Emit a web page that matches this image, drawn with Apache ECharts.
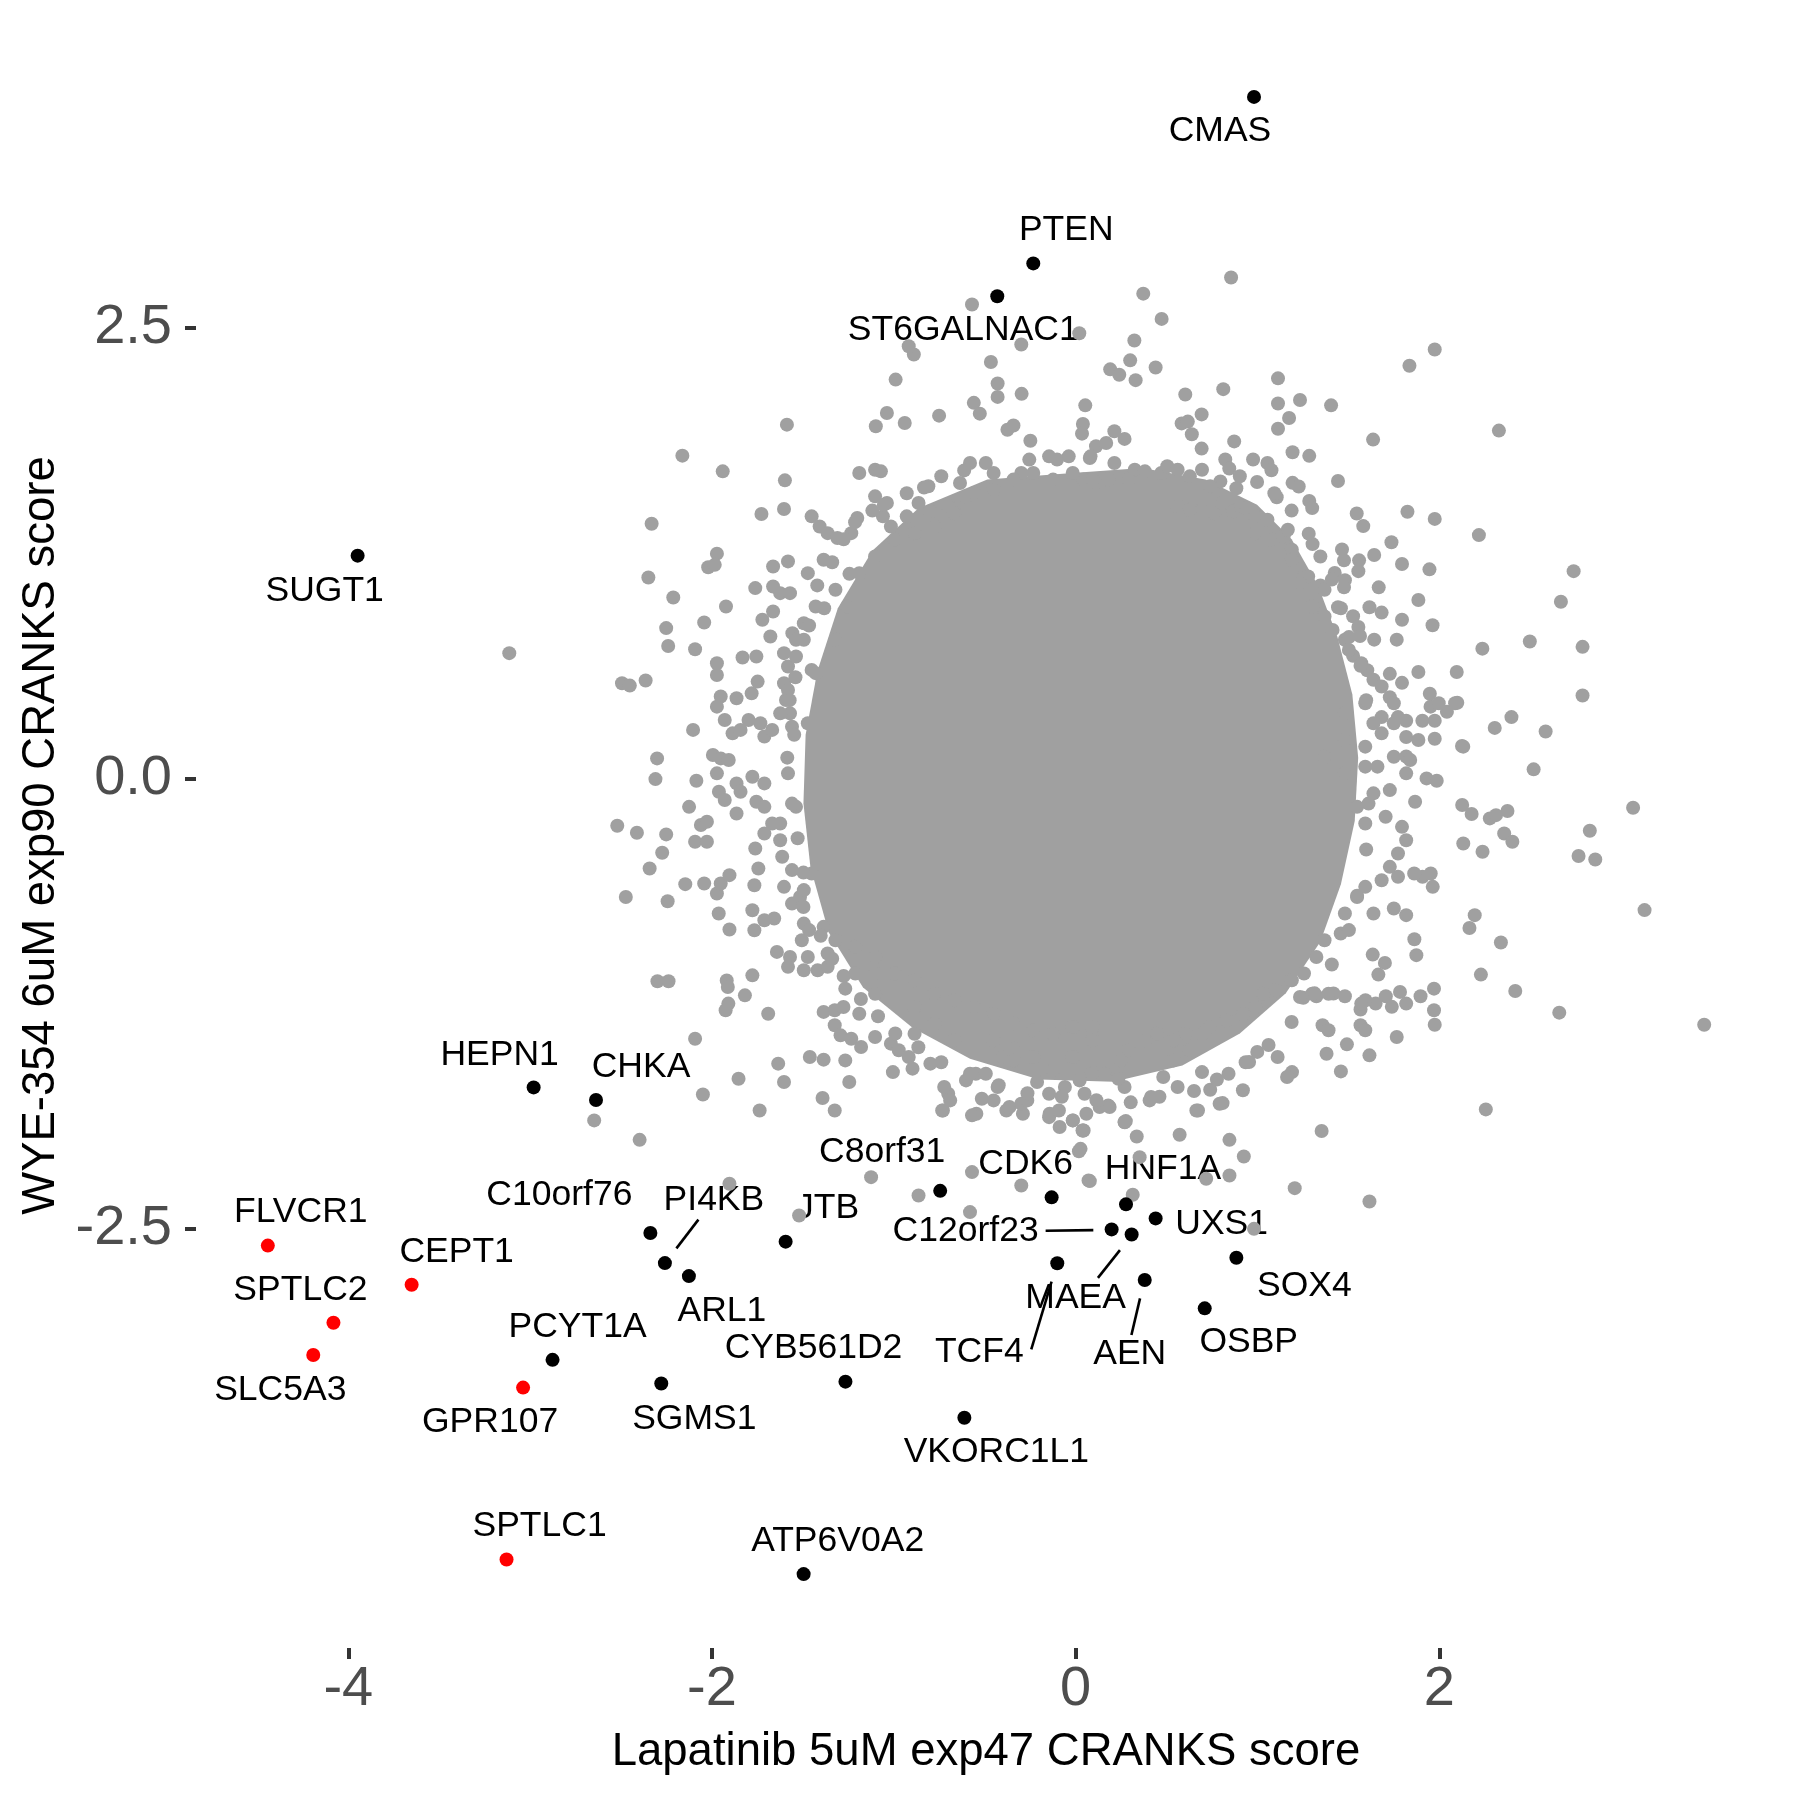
<!DOCTYPE html>
<html>
<head>
<meta charset="utf-8">
<script src="https://cdn.jsdelivr.net/npm/echarts@6/dist/echarts.min.js"></script>
<style>
html,body{margin:0;padding:0;background:#ffffff;}
#chart{width:1800px;height:1800px;}
</style>
</head>
<body>
<div id="chart"></div>
<script>
// ---------------- DATA ----------------
const xTicks = [-4, -2, 0, 2];
const yTicks = [-2.5, 0, 2.5];

// highlighted genes
const geneNames = ['CMAS','PTEN','ST6GALNAC1','SUGT1','HEPN1','CHKA','FLVCR1','CEPT1','SPTLC2','SLC5A3',
  'GPR107','PCYT1A','C10orf76','PI4KB','ARL1','JTB','SGMS1','CYB561D2','SPTLC1','ATP6V0A2',
  'C8orf31','CDK6','HNF1A','UXS1','C12orf23','MAEA','TCF4','AEN','SOX4','OSBP','VKORC1L1'];
const geneX = [0.981,-0.233,-0.431,-3.949,-2.981,-2.638,-4.443,-3.652,-4.082,-4.193,
  -3.039,-2.877,-2.339,-2.259,-2.127,-1.595,-2.279,-1.266,-3.130,-1.496,
  -0.745,-0.132,0.277,0.440,0.198,0.308,-0.101,0.380,0.884,0.710,-0.612];
const geneY = [3.782,2.858,2.676,1.236,-1.715,-1.785,-2.593,-2.810,-3.021,-3.200,
  -3.381,-3.227,-2.523,-2.690,-2.762,-2.571,-3.358,-3.348,-4.335,-4.416,
  -2.289,-2.325,-2.364,-2.442,-2.503,-2.531,-2.691,-2.784,-2.660,-2.941,-3.548];
const redGenes = ['FLVCR1','CEPT1','SPTLC2','SLC5A3','GPR107','SPTLC1'];

// outline of the saturated central mass of overlapping gray points
const coreOutline = [[0.000,1.696],[0.366,1.722],[0.714,1.658],[0.998,1.518],[1.188,1.327],[1.333,1.071],
  [1.440,0.784],[1.522,0.466],[1.554,0.115],[1.535,-0.236],[1.459,-0.587],[1.346,-0.906],[1.156,-1.193],
  [0.903,-1.416],[0.587,-1.594],[0.208,-1.684],[-0.202,-1.671],[-0.581,-1.556],[-0.897,-1.384],
  [-1.169,-1.161],[-1.358,-0.855],[-1.459,-0.491],[-1.497,-0.140],[-1.485,0.242],[-1.421,0.593],
  [-1.308,0.944],[-1.118,1.263],[-0.865,1.499],[-0.486,1.658]];

// points along the ragged edge of the saturated mass
const edgePoints = [
 [-1.213,1.422],[-1.118,1.486],[-1.276,1.327],[-1.339,1.199],[-1.421,1.071],[-1.383,0.944],[-1.466,0.848],[-1.244,1.135],
 [-1.055,1.518],[-0.929,1.582],[-0.834,1.614],[-0.739,1.677],[-0.613,1.709],
 [1.093,1.582],[1.188,1.486],[1.282,1.358],[1.346,1.231],[1.409,1.103],[1.459,0.944],[1.503,0.784],[1.567,0.625],
 [1.598,0.434],[0.998,1.645],[0.903,1.677],
 [1.611,-0.140],[1.598,-0.395],[1.548,-0.651],[1.503,-0.842],[1.409,-1.033],[1.314,-1.193],[1.188,-1.352],[1.061,-1.480],[0.935,-1.575],
 [0.777,-1.671],[0.651,-1.735],[0.461,-1.767],[0.303,-1.798],[0.114,-1.786],[-0.076,-1.767],[-0.265,-1.747],[-0.423,-1.703],
 [-0.581,-1.639],[-0.739,-1.575],[-0.865,-1.492],[-0.992,-1.416],[-1.087,-1.320],[-1.181,-1.224],[-1.276,-1.097],[-1.339,-1.001],[-1.402,-0.874],
 [-1.541,0.561],[-1.573,0.434],[-1.548,0.242],[-1.586,0.115],[-1.560,-0.140],[-1.529,-0.332],[-1.497,-0.523],[-1.497,-0.714],[-1.466,-0.842]
];

// individual gray points outside the saturated mass
const grayPoints = [
 [0.855,2.78],[-0.570,2.63],[0.372,2.69],[0.473,2.55],[0.323,2.43],[0.02,2.47],[0.30,2.32],[0.19,2.27],[0.24,2.24],[0.33,2.21],
 [0.44,2.28],[1.975,2.38],[1.836,2.29],[1.113,2.22],[0.812,2.16],[0.603,2.13],[0.053,2.07],[1.113,2.08],[1.234,2.10],[1.405,2.07],
 [0.693,2.02],[1.174,2.00],[1.113,1.94],[2.328,1.93],[1.636,1.88],[0.583,1.97],[0.617,1.98],[0.639,1.91],[0.872,1.87],[0.693,1.83],
 [1.193,1.81],[1.285,1.79],[0.976,1.77],[1.055,1.75],[1.077,1.71],[0.823,1.77],[0.845,1.72],[1.443,1.65],[1.193,1.64],[1.227,1.62],
 [0.884,1.61],[1.106,1.56],[1.285,1.54],[1.301,1.50],[1.546,1.47],[1.582,1.40],[1.825,1.48],[1.975,1.44],[2.218,1.35],[1.737,1.31],
 [1.303,1.30],[1.465,1.27],[1.642,1.24],[1.559,1.21],[1.555,1.15],[1.476,1.21],[1.795,1.19],[1.946,1.16],[2.739,1.15],[1.259,1.12],
 [1.346,1.07],[1.425,1.14],[1.481,1.10],[1.476,1.06],[1.667,1.06],[1.885,0.99],[2.669,0.98],[1.443,0.95],[1.616,0.95],[1.683,0.92],
 [1.526,0.90],[1.555,0.84],[1.564,0.79],[1.963,0.85],[1.795,0.88],[2.498,0.76],[2.788,0.73],[2.237,0.72],[2.096,0.59],[1.885,0.59],
 [1.642,0.77],[1.766,0.77],[1.728,0.58],[1.795,0.53],[1.526,0.68],[1.604,0.60],[2.788,0.46],[1.948,0.47],[1.907,0.32],[1.975,0.32],
 [2.042,0.37],[2.099,0.42],[2.397,0.34],[2.305,0.28],[2.585,0.26],[1.975,0.22],[2.125,0.18],[1.773,0.34],[1.818,0.32],[1.818,0.23],
 [1.683,0.34],[1.728,0.45],[1.683,0.25],
 [0.078,1.778],[0.112,1.843],[0.168,1.861],[0.213,1.926],[0.269,1.884],[0.213,1.750],[0.325,1.713],[0.381,1.704],[0.471,1.695],[0.504,1.732],
 [0.561,1.713],[0.628,1.676],[0.695,1.713],[0.796,1.648],[0.740,1.621],[0.044,1.658],[0.112,1.639],[0.179,1.658],[0.291,1.658],
 [0.561,1.510],[0.628,1.491],[0.695,1.547],[0.762,1.472],[0.807,1.528],[0.864,1.482],[0.908,1.510],[0.942,1.500],[0.987,1.454],[1.055,1.435],
 [0.987,1.361],[1.077,1.324],[1.144,1.343],[1.189,1.269],[1.189,1.213],[1.167,1.380],[1.279,1.121],[1.234,1.084],[1.369,1.047],
 [1.301,0.954],[1.369,0.898],[1.413,0.824],[1.481,0.769],[1.503,0.713],[1.571,0.639],[1.638,0.547],[1.683,0.510],[1.750,0.417],[1.593,0.417],
 [1.481,0.361],[1.638,0.306],[1.750,0.306],[1.818,0.121],[1.885,0.213],[1.952,0.398],[1.997,0.417],[2.087,0.417],[2.132,0.176],[1.481,0.213],[1.593,0.176],
 [2.519,0.05],[3.066,-0.163],[2.828,-0.291],[2.766,-0.431],[2.858,-0.45],[3.129,-0.731],[3.457,-1.367],[2.126,-0.148],[2.178,-0.198],[2.278,-0.222],
 [2.312,-0.204],[2.375,-0.181],[2.357,-0.306],[2.402,-0.352],[2.132,-0.361],[2.238,-0.407],[1.867,-0.13],[1.93,0.0],[1.986,-0.013],[1.908,-0.546],
 [1.964,-0.602],[1.953,-0.528],[2.195,-0.759],[2.166,-0.83],[2.339,-0.911],[2.229,-1.089],[2.418,-1.18],[2.66,-1.3],[2.256,-1.837],[1.863,-0.893],
 [1.874,-0.981],[1.634,-0.978],[1.701,-1.024],[1.665,-1.089],[1.75,-0.722],[1.818,-0.759],[1.971,-1.167],[1.971,-1.287],[1.975,-1.367],[1.897,-1.209],
 [1.818,-1.25],[1.784,-1.185],[1.739,-1.268],[1.706,-1.209],[1.65,-1.25],[1.594,-1.231],[1.567,-1.283],[1.481,-1.209],[1.418,-1.194],[1.324,-1.209],
 [1.252,-1.217],[1.567,-1.37],[1.492,-1.476],[1.38,-1.528],[1.459,-1.626],[1.616,-1.537],[1.766,-1.435],[1.358,-1.37],[1.391,-1.398],[1.353,-1.957],
 [1.205,-2.274],[1.616,-2.348],[0.925,-2.098],[0.846,-2.006],[0.846,-2.204],[0.718,-2.222],[0.572,-1.978],[0.336,-1.987],[0.276,-1.902],[0.314,-2.311],
 [0.078,-2.235],[1.111,-1.546],[1.19,-1.63],[1.163,-1.657],[0.999,-1.518],[0.808,-1.802],[0.673,-1.843],[0.74,-1.728],[0.561,-1.713],[0.415,-1.768],
 [0.482,-1.657],[0.269,-1.713],[0.179,-1.815],[0.269,-1.907],[0.044,-1.954],[0.123,-1.639],[0.235,-1.667],[0.92,-1.731],[0.841,-1.639],[0.954,-1.574],
 [0.695,-1.63],[0.628,-1.509],[0.538,-1.565],
 [1.369,0.120],[1.481,0.028],[1.593,0.065],[1.660,0.065],[1.750,0.120],[1.840,0.102],[1.818,0.028],[1.728,-0.065],[1.638,-0.083],[1.548,-0.158],
 [1.593,-0.250],[1.705,-0.213],[1.795,-0.269],[1.818,-0.343],[1.773,-0.417],[1.728,-0.491],[1.683,-0.565],[1.773,-0.546],[1.862,-0.528],[1.593,-0.602],
 [1.548,-0.658],[1.638,-0.750],[1.481,-0.750],[1.458,-0.861],[1.369,-0.898],[1.324,-0.991],[1.256,-1.083],[1.189,-1.120],[1.099,-1.176],[1.032,-1.195],
 [0.987,-1.269],[0.920,-1.306],[0.830,-1.343],[0.740,-1.380],[0.695,-1.417],[0.605,-1.417],[0.538,-1.454],[0.449,-1.417],[0.381,-1.454],[0.291,-1.509],
 [0.246,-1.565],[0.157,-1.639],[0.089,-1.639],[0.022,-1.676],[1.234,-1.213],[1.301,-1.195],[1.391,-1.195],[1.571,-1.250],[1.593,-1.398],
 [0.981,-2.50],[0.352,-2.102],[0.018,-2.069],[0.27,-1.908],[-0.73,-1.843],[-0.546,-1.861],[-0.381,-1.843],[-0.29,-1.861],[-0.143,-1.861],[-0.088,-1.935],
 [-0.015,-1.898],[0.04,-1.954],[0.059,-1.861],[0.132,-1.824],[0.187,-1.824],[0.407,-1.787],[0.664,-1.843],[0.792,-1.806],
 [-2.302,0.111],[-2.311,-0.004],[-1.995,0.13],[-1.952,0.111],[-1.908,0.102],[-2.086,-0.013],[-1.973,0.028],[-1.962,-0.074],[-1.93,-0.12],[-1.865,-0.028],
 [-1.843,-0.074],[-1.778,0.009],[-1.712,-0.028],[-1.756,-0.13],[-1.712,-0.158],[-1.865,-0.195],[-2.126,-0.158],[-2.521,-0.263],[-2.413,-0.302],[-2.252,-0.311],
 [-2.274,-0.413],[-2.343,-0.5],[-2.474,-0.658],[-2.244,-0.682],[-2.147,-0.587],[-2.043,-0.583],[-2.093,-0.352],[-2.028,-0.352],[-2.061,-0.259],[-2.028,-0.241],
 [-1.963,-0.75],[-1.904,-0.839],[-1.973,-0.639],[-1.952,-0.583],[-1.904,-0.537],[-1.767,-0.593],[-1.745,-0.5],[-1.778,-0.732],[-1.767,-0.843],[-1.712,-0.787],
 [-1.658,-0.778],[-1.762,-0.389],[-1.614,-0.435],[-1.625,-0.343],[-1.669,-0.25],[-1.712,-0.306],[-1.56,-0.695],[-1.516,-0.658],[-1.643,-0.963],[-1.571,-0.991],
 [-1.582,-1.046],[-1.495,-1.065],[-1.419,-1.065],[-1.473,-0.991],[-1.364,-1.046],[-1.364,-0.972],[-1.495,-0.806],[-1.506,-0.898],[-1.919,-1.121],[-1.913,-1.158],
 [-1.778,-1.093],[-1.819,-1.204],[-1.91,-1.25],[-1.925,-1.287],[-1.691,-1.306],[-2.3,-1.126],[-2.239,-1.126],[-2.093,-1.445],[-2.648,-1.898],[-2.398,-2.006],
 [-2.05,-1.754],[-1.854,-1.667],[-1.738,-1.843],[-1.636,-1.583],[-1.604,-1.685],[-1.462,-1.546],[-1.386,-1.561],[-1.267,-1.565],[-1.245,-1.685],[-1.392,-1.774],
 [-1.325,-1.843],[-1.386,-1.296],[-1.325,-1.287],[-1.277,-1.269],[-1.19,-1.306],[-1.267,-1.167],[-1.325,-1.37],[-1.293,-1.426],[-1.234,-1.445],[-1.18,-1.491],
 [-1.103,-1.435],[-1.016,-1.472],[-0.973,-1.509],[-0.918,-1.546],[-0.897,-1.611],[-1.005,-1.63],[-0.886,-1.417],[-0.799,-1.583],[-0.701,-1.75],[-0.734,-1.843],
 [-0.69,-1.787],[-0.723,-1.713],[-0.57,-1.87],[-0.549,-1.639],[-0.516,-1.778],[-0.451,-1.787],[-0.429,-1.713],[-0.364,-1.824],[-0.299,-1.806],[-0.266,-1.787],
 [-0.212,-1.685],[-0.146,-1.75],[-0.146,-1.88],[-0.092,-1.843],[-0.016,-1.898],[0.038,-1.954],[0.027,-2.056],[-0.57,-2.185],[-0.299,-2.259],[-0.581,-2.407],
 [-0.864,-2.315],[-1.125,-2.213],[-0.603,-1.676],[-0.494,-1.639],[-0.397,-1.546],[-0.342,-1.5],[-0.233,-1.546],[-0.124,-1.62],[-0.059,-1.713],[0.049,-1.75],
 [0.071,-2.231],[-1.521,-2.426],[-1.904,-2.25],
 [-1.582,0.028],[-1.538,-0.158],[-1.625,-0.250],[-1.560,-0.509],[-1.452,-0.528],[-1.495,-0.620],[-1.604,-0.602],[-1.386,-0.824],[-1.321,-0.898],[-1.212,-0.935],
 [-1.103,-0.991],[-0.995,-1.083],[-0.886,-1.120],[-0.777,-1.195],[-0.668,-1.232],[-0.559,-1.269],[-0.451,-1.306],[-0.342,-1.361],[-0.233,-1.398],[-0.124,-1.417],
 [-0.016,-1.380],[0.093,-1.380],[-1.103,-1.083],[-1.212,-1.083],[-1.103,-1.195],[-0.886,-1.269],[-0.777,-1.361],[-0.668,-1.454],[-0.451,-1.454],[-0.342,-1.565],
 [-0.016,-1.546],[0.093,-1.454],
 [-0.89,2.352],[-0.918,2.398],[-0.99,2.213],[-0.466,2.311],[-0.299,2.408],[-0.429,2.191],[-0.429,2.117],[-0.297,2.134],[-0.56,2.084],[-0.527,2.024],
 [-1.038,2.028],[-1.099,1.954],[-0.94,1.972],[-0.751,2.013],[-0.375,1.935],[-0.342,1.958],[-0.249,1.874],[0.04,1.967],[0.035,1.913],[-1.588,1.963],
 [-2.163,1.791],[-1.941,1.704],[-1.599,1.654],[-2.332,1.413],[-1.728,1.467],[-1.604,1.495],[-1.973,1.247],[-2.021,1.172],[-1.985,1.185],[-2.35,1.115],
 [-2.213,1.004],[-2.043,0.865],[-1.923,0.954],[-2.252,0.834],[-2.241,0.735],[-2.093,0.717],[-3.115,0.695],[-2.495,0.528],[-2.452,0.515],[-2.365,0.543],
 [-2.104,0.269],[-1.832,0.671],[-1.756,0.676],[-1.973,0.639],[-1.973,0.574],[-1.762,1.056],[-1.664,1.065],[-1.625,1.028],[-1.571,1.028],[-1.664,1.176],
 [-1.582,1.204],[-1.723,0.88],[-1.664,0.926],[-1.679,0.787],[-1.558,0.806],[-1.749,0.537],[-1.782,0.472],[-1.952,0.454],[-1.865,0.445],[-1.973,0.398],
 [-1.93,0.324],[-1.887,0.25],[-1.843,0.269],[-1.799,0.324],[-1.734,0.306],[-1.712,0.232],[-1.669,0.269],[-1.593,0.435],[-1.571,0.361],[-1.56,0.287],
 [-1.604,0.528],[-1.582,0.621],[-1.604,0.695],[-1.538,0.676],[-1.495,0.769],[-1.452,0.602],[-1.452,1.454],[-1.408,1.398],[-1.364,1.361],[-1.31,1.334],
 [-1.234,1.361],[-1.201,1.445],[-1.19,1.695],[-1.103,1.713],[-1.071,1.704],[-1.103,1.565],[-1.038,1.528],[-1.06,1.454],[-1.016,1.398],[-0.929,1.454],
 [-0.864,1.528],[-0.81,1.621],[-0.799,1.482],[-0.701,1.51],[-0.636,1.639],[-0.603,1.565],[-0.581,1.75],[-0.494,1.75],[-0.451,1.695],[-0.299,1.695],
 [-0.255,1.769],[-0.146,1.787],[-0.102,1.769],[-0.038,1.787],[0.082,1.787],
 [-1.473,1.139],[-1.386,1.213],[-1.321,1.047],[-1.43,0.954],[-1.495,0.861],[-1.538,0.769],[-1.582,0.491],[-1.625,0.361],[-1.473,0.306],[-1.43,0.584],
 [-1.19,1.139],[-1.103,1.232],[-0.995,1.324],[-0.886,1.361],[-0.777,1.398],[-0.668,1.472],[-0.559,1.584],[-0.451,1.602],[-0.342,1.658],[-0.233,1.695],
 [-0.124,1.658],[-0.016,1.695],[0.093,1.658],[-1.256,0.954],[-1.321,0.769]
];

// ---------------- STYLE / LAYOUT ----------------
const GRAY = '#A0A0A0';
const FONT = '"Liberation Sans", Arial, Helvetica, sans-serif';
const POINT_SIZE = 14;
const LABEL_SIZE = 35.5;
// label centre offsets (pixels, relative to the point)
const labelOffsets = {
  CMAS:[-34,34], PTEN:[33,-33], ST6GALNAC1:[-34,34], SUGT1:[-33,36], HEPN1:[-34,-32], CHKA:[45,-33],
  FLVCR1:[33,-33], CEPT1:[45,-33], SPTLC2:[-33,-33], SLC5A3:[-33,35], GPR107:[-33,35], PCYT1A:[25,-33],
  C10orf76:[-91,-38], PI4KB:[49,-63], ARL1:[33,35], JTB:[42,-33], SGMS1:[33,36], CYB561D2:[-32,-33],
  SPTLC1:[33,-33], ATP6V0A2:[34,-33], C8orf31:[-58,-39], CDK6:[-26,-33], HNF1A:[37,-35], UXS1:[66,6],
  C12orf23:[-146,2], MAEA:[-56,64], TCF4:[-78,89], AEN:[-15,74], SOX4:[68,29], OSBP:[44,34], VKORC1L1:[32,34]
};
// connector segments (pixels relative to the point): x1,y1,x2,y2
const segmentOffsets = {
  PI4KB:[11.5,-14.7,33.5,-43.5],
  C12orf23:[-66,1.4,-18.3,0.7],
  MAEA:[-11.7,15.7,-33.7,43.4],
  TCF4:[-5.7,18.4,-26,86],
  AEN:[-4.7,18.3,-13.3,55]
};

const blackData = [], redData = [], labelData = [];
geneNames.forEach((n, i) => {
  const pt = [geneX[i], geneY[i]];
  (redGenes.includes(n) ? redData : blackData).push(pt);
  labelData.push([geneX[i], geneY[i], i]);
});

const chart = echarts.init(document.getElementById('chart'), null, {renderer: 'canvas'});
const option = {
  backgroundColor: '#ffffff',
  animation: false,
  grid: {left: 196, right: 24, top: 23, bottom: 152, containLabel: false},
  xAxis: {
    type: 'value', min: -4.838, max: 3.852,
    axisLine: {show: false, onZero: false}, splitLine: {show: false},
    axisTick: {show: true, length: 11, lineStyle: {color: '#333333', width: 4}, customValues: xTicks},
    axisLabel: {customValues: xTicks, formatter: v => String(v), color: '#4D4D4D', fontSize: 56, fontFamily: FONT, margin: 14},
    name: 'Lapatinib 5uM exp47 CRANKS score', nameLocation: 'middle', nameGap: 81,
    nameTextStyle: {fontSize: 45.5, color: '#000000', fontFamily: FONT}
  },
  yAxis: {
    type: 'value', min: -4.826, max: 4.192,
    axisLine: {show: false, onZero: false}, splitLine: {show: false},
    axisTick: {show: true, length: 11, lineStyle: {color: '#333333', width: 4}, customValues: yTicks},
    axisLabel: {customValues: yTicks, formatter: v => v.toFixed(1), color: '#4D4D4D', fontSize: 56, fontFamily: FONT, margin: 24},
    name: 'WYE-354 6uM exp90 CRANKS score', nameLocation: 'middle', nameGap: 130,
    nameTextStyle: {fontSize: 45.5, color: '#000000', fontFamily: FONT}
  },
  series: [
    {
      type: 'custom', name: 'core', silent: true, z: 1, clip: false,
      data: [[0, 0]],
      renderItem: (params, api) => ({
        type: 'polygon',
        shape: {points: coreOutline.map(p => api.coord(p))},
        style: {fill: GRAY}
      })
    },
    {
      type: 'custom', name: 'labels', silent: true, z: 2, clip: false,
      data: labelData,
      renderItem: (params, api) => {
        const i = api.value(2);
        const name = geneNames[i];
        const p = api.coord([api.value(0), api.value(1)]);
        const off = labelOffsets[name];
        const children = [{
          type: 'text',
          style: {text: name, x: p[0] + off[0], y: p[1] + off[1], align: 'center', verticalAlign: 'middle',
                  fontSize: LABEL_SIZE, fontFamily: FONT, fill: '#000000'}
        }];
        const s = segmentOffsets[name];
        if (s) {
          children.push({type: 'line', shape: {x1: p[0] + s[0], y1: p[1] + s[1], x2: p[0] + s[2], y2: p[1] + s[3]},
                         style: {stroke: '#000000', lineWidth: 2.6}});
        }
        return {type: 'group', children: children};
      }
    },
    {type: 'scatter', name: 'gray', silent: true, z: 3, symbol: 'circle', symbolSize: POINT_SIZE,
     itemStyle: {color: GRAY, opacity: 1}, data: grayPoints.concat(edgePoints)},
    {type: 'scatter', name: 'black', silent: true, z: 4, symbol: 'circle', symbolSize: POINT_SIZE,
     itemStyle: {color: '#000000', opacity: 1}, data: blackData},
    {type: 'scatter', name: 'red', silent: true, z: 4, symbol: 'circle', symbolSize: POINT_SIZE,
     itemStyle: {color: '#FF0000', opacity: 1}, data: redData}
  ]
};
chart.setOption(option);
</script>
</body>
</html>
